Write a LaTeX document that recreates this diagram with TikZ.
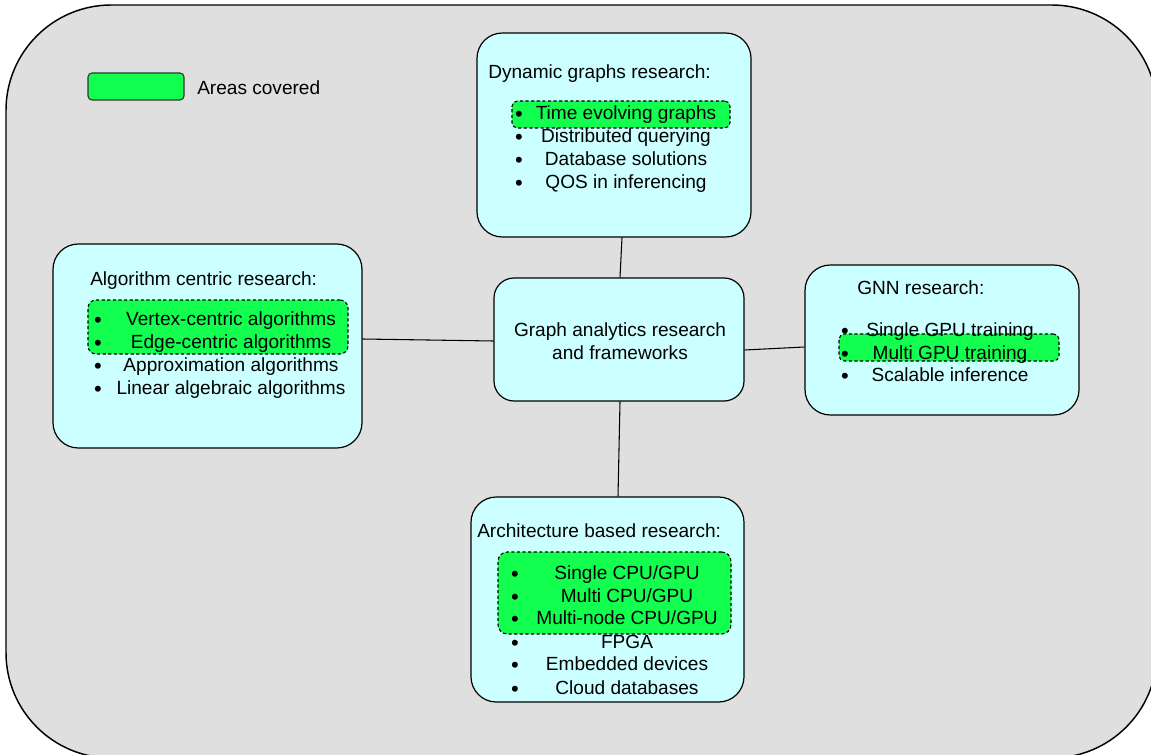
\documentclass[tikz,border=0pt]{standalone}
\usepackage{fontspec}
\setmainfont{Liberation Sans}
\usetikzlibrary{fit,calc}
\definecolor{frameGray}{RGB}{223,223,223}
\definecolor{boxCyan}{RGB}{204,255,255}
\definecolor{hiGreen}{RGB}{18,255,80}
\tikzset{
  box/.style={draw=black, line width=0.9pt, fill=boxCyan, rounded corners=19pt, inner sep=0pt},
  hilite/.style={draw=black, dash pattern=on 2.4pt off 1.8pt, line width=0.8pt, fill=hiGreen, rounded corners=#1},
  hilite/.default=4pt,
  txt/.style={anchor=base, inner sep=0pt, yshift=-1pt, font=\fontsize{14.3}{17}\selectfont},
  ttl/.style={anchor=base west, inner sep=0pt, yshift=-1pt, font=\fontsize{14.3}{17}\selectfont},
  dot/.style={anchor=base, inner sep=0pt, yshift=-2.3pt, font=\fontsize{16.5}{17}\selectfont},
  link/.style={draw=black, line width=0.8pt}
}
\begin{document}
\begin{tikzpicture}[x=0.75pt,y=-0.75pt]
\useasboundingbox (0,0) rectangle (1151,755);
\begin{scope}
\clip (0,0) rectangle (1151,755);
\draw[fill=frameGray, line width=1.1pt, rounded corners=79pt] (6,5) rectangle (1157,758);
\end{scope}

% legend
\node[draw=black!80, line width=0.8pt, fill=hiGreen, rounded corners=3pt, inner sep=0pt,
      fit={(88,73) (184,100)}] (legbox) {};
\node[ttl] (legtxt) at (197,93) {Areas covered};

% boxes
\node[box, fit={(477,33) (751,237)}] (dyn) {};
\node[box, fit={(53,244) (362,448)}] (alg) {};
\node[box, rounded corners=15pt, fit={(494,278) (744,401)}] (cen) {};
\node[box, fit={(805,265) (1079,415)}] (gnn) {};
\node[box, fit={(471,497) (744,702)}] (arch) {};

% connectors
\draw[link] ($(dyn.south)+(8,0)$) -- ($(cen.north)+(1,0)$);
\draw[link] ($(alg.east)+(0,-7)$) -- ($(cen.west)+(0,1.5)$);
\draw[link] ($(cen.east)+(0,10.5)$) -- ($(gnn.west)+(0,7)$);
\draw[link] ($(cen.south)+(1,0)$) -- ($(arch.north)+(10.5,0)$);

% highlighted areas
\node[hilite, inner sep=0pt, fit={(512,101) (730,128)}] (hdyn) {};
\node[hilite=6pt, inner sep=0pt, fit={(88,300) (348,354)}] (halg) {};
\node[hilite, inner sep=0pt, fit={(839,334) (1059,361)}] (hgnn) {};
\node[hilite=7pt, inner sep=0pt, fit={(498,552) (731,634)}] (harch) {};

% central node text
\node[txt] (c1) at (620,335) {Graph analytics research};
\node[txt] (c2) at (620,358) {and frameworks};

% dynamic graphs
\node[ttl] (dt) at (488,77) {Dynamic graphs research:};
\foreach \y/\t [count=\i] in {118/{Time evolving graphs},141/{Distributed querying},164/{Database solutions},187/{QOS in inferencing}}{
  \node[dot] (db\i) at (519,\y) {•};
  \node[txt] (di\i) at (626,\y) {\t};
}

% algorithm centric
\node[ttl] (at) at (90,284) {Algorithm centric research:};
\foreach \y/\t [count=\i] in {324/{Vertex-centric algorithms},347/{Edge-centric algorithms},370/{Approximation algorithms},393/{Linear algebraic algorithms}}{
  \node[dot] (ab\i) at (98,\y) {•};
  \node[txt] (ai\i) at (231,\y) {\t};
}

% GNN
\node[ttl] (gt) at (857,293) {GNN research:};
\foreach \y/\t [count=\i] in {335/{Single GPU training},358/{Multi GPU training},380/{Scalable inference}}{
  \node[dot] (gb\i) at (845,\y) {•};
  \node[txt] (gi\i) at (950,\y) {\t};
}

% architecture based
\node[ttl] (rt) at (477,536) {Architecture based research:};
\foreach \y/\t [count=\i] in {578/{Single CPU/GPU},601/{Multi CPU/GPU},623/{Multi-node CPU/GPU},647/{FPGA},669/{Embedded devices},693/{Cloud databases}}{
  \node[dot] (rb\i) at (515,\y) {•};
  \node[txt] (ri\i) at (627,\y) {\t};
}
\end{tikzpicture}
\end{document}
